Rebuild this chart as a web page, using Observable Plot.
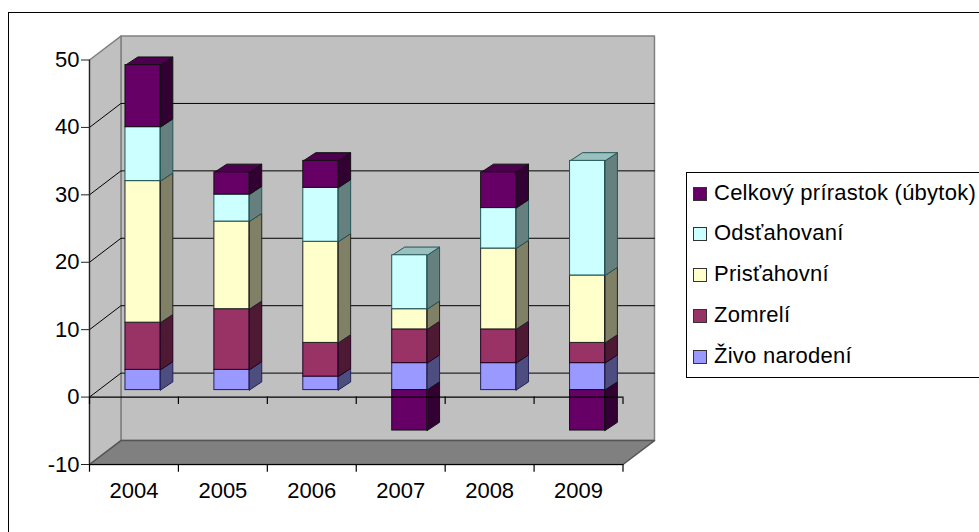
<!DOCTYPE html>
<html><head><meta charset="utf-8">
<script src="https://cdn.jsdelivr.net/npm/d3@7"></script>
<script src="https://cdn.jsdelivr.net/npm/@observablehq/plot@0.6"></script>
<style>
html,body{margin:0;padding:0;background:#fff;overflow:hidden}
#wrap{position:relative;width:979px;height:532px;overflow:hidden;font-family:"Liberation Sans",Arial,sans-serif}
#frame{position:absolute;left:8px;top:12px;width:1000px;height:560px;border:1.5px solid #000;box-sizing:border-box;pointer-events:none}
#legend{position:absolute;left:686px;top:172px;width:320px;height:206px;border:1px solid #000;box-sizing:border-box;background:#fff}
#legend div{position:absolute;left:27px;font-size:22px;line-height:24px;letter-spacing:.25px;white-space:nowrap;color:#000}
#legend i{position:absolute;left:-21px;top:6px;width:12px;height:12px;border:1px solid #333;display:block}
svg{position:absolute;left:0;top:0;background:transparent;font-family:"Liberation Sans",Arial,sans-serif}
</style></head><body>
<div id="wrap"><div id="frame"></div><div id="legend"></div></div>
<script>
const years = [2004, 2005, 2006, 2007, 2008, 2009];
const zivo = [3, 3, 2, 4, 4, 4];
const zomreli = [7, 9, 5, 5, 5, 3];
const pristahovani = [21, 13, 15, 3, 12, 10];
const odstahovani = [8, 4, 8, 8, 6, 17];
const celkovy = [9.2, 3.3, 4, -6, 5.3, -6];
const seriesNames = ["Živo narodení", "Zomrelí", "Prisťahovní", "Odsťahovaní", "Celkový prírastok (úbytok)"];
const seriesValues = [zivo, zomreli, pristahovani, odstahovani, celkovy];
const front = ["#9999FF", "#993366", "#FFFFCC", "#CCFFFF", "#660066"];
const side = ["#4D4D80", "#4D1933", "#808066", "#668080", "#330033"];
const topc = ["#7373BF", "#73264D", "#BFBF99", "#99BFBF", "#4D004D"];
const edge = ["#222255", "#220022", "#222222", "#225555", "#111111"];
const yTicks = [-10, 0, 10, 20, 30, 40, 50];

// depth of the 3D box and of the bars, in scale units
const wallDx = 31.5 / 89, wallDy = 24 / 6.75;
const barX = 36 / 89, barW = 35 / 89, barLift = 7 / 6.75;
const barDx = 12.4 / 89, barDy = 8.2 / 6.75;

const polys = [];
const poly = (id, fill, stroke, pts) => {
  pts.concat([pts[0]]).forEach(([x, y]) => polys.push({id, x, y, fill, stroke}));
};
const X0 = 0, X1 = years.length, Y0 = yTicks[0], Y1 = yTicks[yTicks.length - 1];
poly("back", "#C0C0C0", "#808080", [[X0 + wallDx, Y0 + wallDy], [X1 + wallDx, Y0 + wallDy], [X1 + wallDx, Y1 + wallDy], [X0 + wallDx, Y1 + wallDy]]);
poly("wall", "#C0C0C0", "#808080", [[X0, Y0], [X0 + wallDx, Y0 + wallDy], [X0 + wallDx, Y1 + wallDy], [X0, Y1]]);
poly("floor", "#808080", "#555555", [[X0, Y0], [X1, Y0], [X1 + wallDx, Y0 + wallDy], [X0 + wallDx, Y0 + wallDy]]);

const grid = [];
yTicks.slice(1, -1).forEach(t => {
  [[X0, t], [X0 + wallDx, t + wallDy], [X1 + wallDx, t + wallDy]].forEach(([x, y]) => grid.push({t, x, y}));
});

const fronts = [];
years.forEach((yr, i) => {
  const l = i + barX, r = l + barW;
  let pos = 0, neg = 0;
  const segs = seriesValues.map((s, k) => {
    const v = s[i];
    let a, b;
    if (v >= 0) { a = pos; b = pos + v; pos = b; } else { a = neg + v; b = neg; neg = a; }
    return {k, a: a + barLift, b: b + barLift};
  });
  segs.forEach(({k, a, b}) => {
    poly(`s${i}-${k}`, side[k], edge[k], [[r, a], [r + barDx, a + barDy], [r + barDx, b + barDy], [r, b]]);
    fronts.push({x1: l, x2: r, y1: a, y2: b, fill: front[k], stroke: edge[k]});
  });
  const t = segs.filter(s => seriesValues[s.k][i] > 0).pop();
  poly(`t${i}`, topc[t.k], edge[t.k], [[l, t.b], [r, t.b], [r + barDx, t.b + barDy], [l + barDx, t.b + barDy]]);
});

const boundaries = d3.range(0, years.length + 1);
const isBox = p => ["back", "wall", "floor"].includes(p.id);
const plot = Plot.plot({
  width: 979, height: 532,
  marginLeft: 89, marginRight: 356, marginTop: 59.5, marginBottom: 68,
  x: {domain: [X0, X1], range: [89, 622.5], axis: null},
  y: {domain: [Y0, Y1], range: [464, 59.5], axis: null},
  color: {type: "identity"},
  marks: [
    Plot.line(polys.filter(isBox), {x: "x", y: "y", z: "id", fill: "fill", stroke: "stroke", strokeWidth: 1.5}),
    Plot.line(grid, {x: "x", y: "y", z: "t", stroke: "#000", strokeWidth: 1}),
    Plot.line(polys.filter(p => !isBox(p)), {x: "x", y: "y", z: "id", fill: "fill", stroke: "stroke", strokeWidth: 1}),
    Plot.rect(fronts, {x1: "x1", x2: "x2", y1: "y1", y2: "y2", fill: "fill", stroke: "stroke", strokeWidth: 1}),
    Plot.ruleX([X0], {y1: Y0, y2: Y1, stroke: "#222", strokeWidth: 1.2}),
    Plot.ruleY([0, Y0], {x1: X0, x2: X1, stroke: "#000", strokeWidth: 1.2}),
    Plot.ruleX(boundaries, {x: d => d, y1: 0, y2: -1.1, stroke: "#000", strokeWidth: 1.2}),
    Plot.ruleX(boundaries, {x: d => d, y1: Y0, y2: Y0 - 1.15, stroke: "#000", strokeWidth: 1.2}),
    Plot.axisY({ticks: yTicks, anchor: "left", tickSize: 8, tickPadding: 2, fontSize: 22, label: null, stroke: "#222", fill: "#000", tickFormat: d => String(d)}),
    Plot.text(years, {x: (d, i) => i + 0.5, y: Y0, text: d => String(d), dy: 26, fontSize: 22, fill: "#000"})
  ]
});
plot.style.maxWidth = "none";
document.getElementById("wrap").prepend(plot);

const legend = document.getElementById("legend");
const tops = [8, 48, 89, 130, 171];
[...seriesNames].reverse().forEach((name, j) => {
  const k = seriesNames.length - 1 - j;
  const d = document.createElement("div");
  d.style.top = tops[j] + "px";
  d.textContent = name;
  const i = document.createElement("i");
  i.style.background = front[k];
  d.appendChild(i);
  legend.appendChild(d);
});
</script></body></html>
